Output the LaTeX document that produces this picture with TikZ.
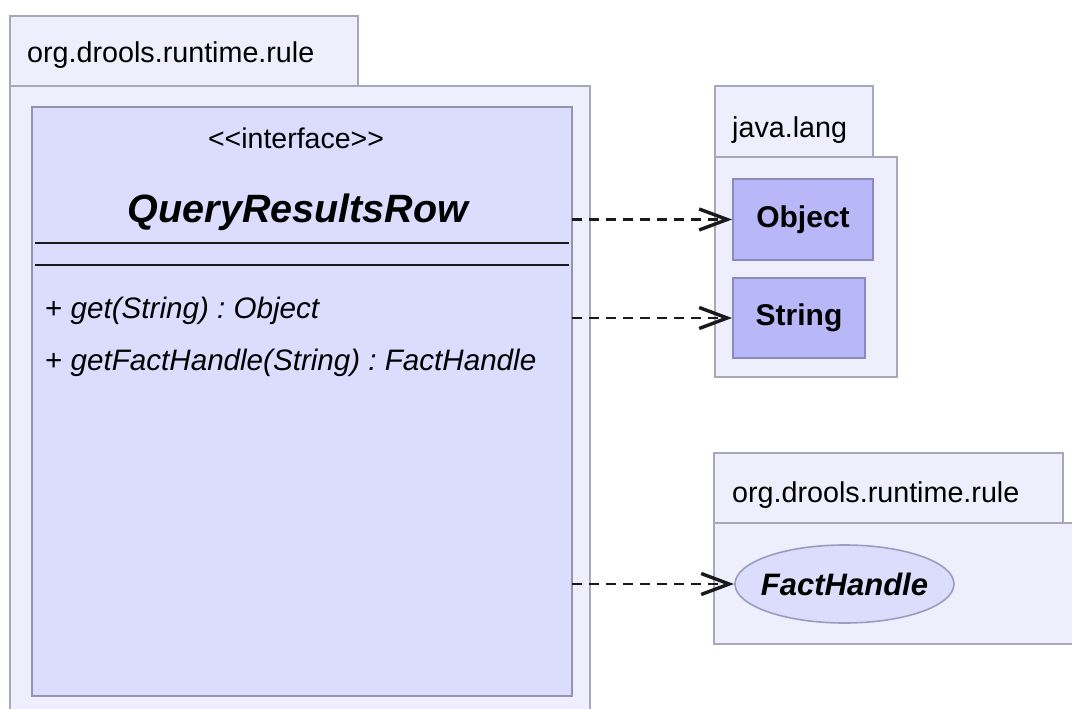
\documentclass[tikz,border=0pt]{standalone}
\usepackage{fontspec}
\setmainfont{Liberation Sans}
\frenchspacing
\usetikzlibrary{arrows.meta,shapes.geometric}
\definecolor{pkgfill}{HTML}{EEEEFC}
\definecolor{pkgdraw}{HTML}{A8A8B8}
\definecolor{clsfill}{HTML}{DCDCFF}
\definecolor{clsdraw}{HTML}{9494AE}
\definecolor{objfill}{HTML}{B8B8F8}
\definecolor{objdraw}{HTML}{8A8AC0}
\definecolor{elfill}{HTML}{DCDCFC}
\definecolor{eldraw}{HTML}{9C9CC0}
\definecolor{lnk}{HTML}{1A1A1A}
\tikzset{
  pkgbox/.style={draw=pkgdraw, fill=pkgfill, line width=2pt, inner sep=0pt, outer sep=0pt, anchor=north west},
  clsbox/.style={draw=clsdraw, fill=clsfill, line width=2.5pt, inner sep=0pt, outer sep=0pt, anchor=north west},
  refbox/.style={draw=objdraw, fill=objfill, line width=2pt, inner sep=0pt, outer sep=0pt, anchor=north west,
    font=\fontsize{30}{36}\selectfont\bfseries},
  refell/.style={ellipse, draw=eldraw, fill=elfill, line width=1.6pt, inner sep=0pt, outer sep=0pt,
    font=\fontsize{31}{36}\selectfont\bfseries\itshape},
  pkglabel/.style={anchor=base west, inner sep=0pt, font=\fontsize{28.7}{34}\selectfont},
  seprule/.style={line width=2.5pt, draw=black!90},
  deplink/.style={draw=lnk, line width=2.6pt, dash pattern=on 10pt off 7pt,
    -{Straight Barb[length=28pt,width=21pt,line width=3.4pt]}, shorten >=1pt}
}
\begin{document}
\begin{tikzpicture}[x=1pt,y=-1pt]
\useasboundingbox (0,0) rectangle (1072,709);
% main package
\node[pkgbox, minimum width=348pt, minimum height=70pt] (ptab) at (10,16) {};
\node[pkgbox, minimum width=580pt, minimum height=700pt] (pbody) at (10,86) {};
\node[pkglabel] (plabel) at (27,63) {org.drools.runtime.rule};
% class
\node[clsbox, minimum width=540pt, minimum height=589pt] (cls) at (32,107) {};
\node[anchor=base, inner sep=0pt, font=\fontsize{28.5}{34}\selectfont] (stereo) at (296,148) {{<}{<}interface{>}{>}};
\node[anchor=base, inner sep=0pt, font=\fontsize{39.5}{46}\selectfont\bfseries\itshape] (cname) at (298,222) {QueryResultsRow};
\coordinate (l1a) at (35,243); \coordinate (l1b) at (569,243);
\coordinate (l2a) at (35,265); \coordinate (l2b) at (569,265);
\draw[seprule] (l1a) -- (l1b);
\draw[seprule] (l2a) -- (l2b);
\node[anchor=base west, inner sep=0pt, font=\fontsize{29.6}{34}\selectfont] (m1) at (45,318) {+ \textit{get(String) : Object}};
\node[anchor=base west, inner sep=0pt, font=\fontsize{29.6}{34}\selectfont] (m2) at (45,370) {+ \textit{getFactHandle(String) : FactHandle}};
% java.lang package
\node[pkgbox, minimum width=158pt, minimum height=71pt] (jtab) at (715,86) {};
\node[pkgbox, minimum width=182pt, minimum height=220pt] (jbody) at (715,157) {};
\node[pkglabel] (jlabel) at (732,138) {java.lang};
\node[refbox, minimum width=140pt, minimum height=81pt] (obj) at (733,179) {Object};
\node[refbox, minimum width=132pt, minimum height=80pt] (str) at (733,278) {String};
% second org.drools.runtime.rule package
\node[pkgbox, minimum width=349pt, minimum height=70pt] (rtab) at (714,453) {};
\node[pkgbox, minimum width=380pt, minimum height=121pt] (rbody) at (714,523) {};
\node[pkglabel] (rlabel) at (732,502) {org.drools.runtime.rule};
\node[refell, minimum width=219pt, minimum height=78pt] (fh) at (844.5,584) {\makebox[0pt]{FactHandle}};
% dependencies
\coordinate (d1) at (572,219.5);
\coordinate (d2) at (572,318);
\coordinate (d3) at (572,584);
\draw[deplink] (d1) -- (obj.west);
\draw[deplink] (d2) -- (str.west);
\draw[deplink] (d3) -- (fh.west);
\end{tikzpicture}
\end{document}
